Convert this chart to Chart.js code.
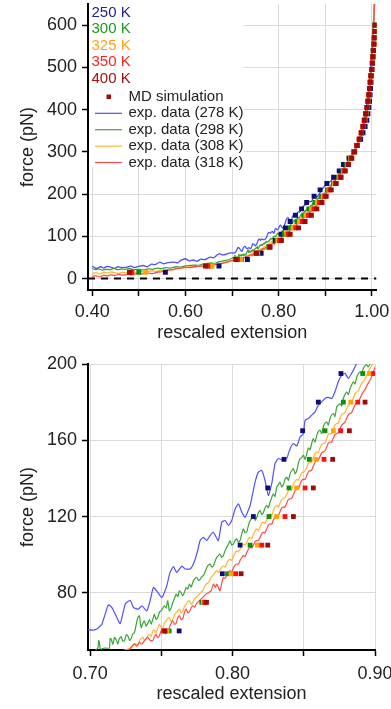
<!DOCTYPE html>
<html><head><meta charset="utf-8">
<script src="https://cdn.jsdelivr.net/npm/chart.js@4/dist/chart.umd.min.js"></script>
<style>
html,body{margin:0;padding:0;background:#fff;width:391px;height:709px;overflow:hidden}
canvas{position:absolute;left:0;display:block}
</style></head><body>
<canvas id="topChart" width="391" height="350" style="top:0"></canvas>
<canvas id="botChart" width="391" height="359" style="top:350px"></canvas>
<script>
// ---------- DATA ----------
const mdForce = [15,30,45,60,75,90,105,120,135,150,165,180,195,210,225,240,255,270,285,300,315,330,345,360,375,390,405,420,435,450,465,480,495,510,525,540,555,570,585,600];
const md250K = [0.557,0.672,0.733,0.7625,0.7800,0.7928,0.8053,0.8146,0.8247,0.8361,0.8492,0.8602,0.8761,0.889,0.9035,0.918,0.930,0.939,0.951,0.9607,0.969,0.976,0.981,0.9855,0.9893,0.9915,0.9935,0.995,0.9962,0.9972,0.9982,0.999,1.0,1.001,1.002,1.003,1.004,1.005,1.006,1.0065];
const md300K = [0.500,0.655,0.720,0.7555,0.7784,0.7965,0.8123,0.8256,0.8396,0.8539,0.8649,0.8778,0.8914,0.9045,0.918,0.929,0.938,0.946,0.954,0.9615,0.968,0.9735,0.978,0.982,0.9855,0.988,0.990,0.992,0.9935,0.995,0.9965,0.998,0.9995,1.001,1.002,1.003,1.0045,1.0055,1.0065,1.007];
const md325K = [0.515,0.657,0.718,0.7540,0.7795,0.7989,0.8174,0.8310,0.8450,0.8586,0.8708,0.8830,0.8960,0.908,0.920,0.931,0.940,0.948,0.955,0.962,0.968,0.973,0.9775,0.9815,0.985,0.9875,0.9898,0.9918,0.9935,0.995,0.9966,0.998,0.9995,1.001,1.002,1.0035,1.0048,1.0058,1.0068,1.0073];
const md350K = [0.485,0.648,0.712,0.7515,0.7805,0.8022,0.8205,0.8368,0.8509,0.8642,0.8759,0.8879,0.8990,0.910,0.922,0.9325,0.9415,0.949,0.956,0.9625,0.968,0.973,0.9772,0.981,0.984,0.987,0.9895,0.9916,0.9936,0.995,0.9966,0.998,0.9998,1.0013,1.0023,1.0036,1.005,1.0058,1.0068,1.0074];
const md400K = [0.480,0.643,0.708,0.7525,0.7817,0.8060,0.8247,0.8427,0.8567,0.8703,0.8820,0.8930,0.9020,0.9129,0.9236,0.934,0.943,0.950,0.957,0.963,0.968,0.973,0.9773,0.981,0.9837,0.9866,0.9895,0.9916,0.9938,0.995,0.9966,0.998,1.0,1.0015,1.0023,1.0037,1.0052,1.0058,1.0068,1.0075];

// experimental traces: [rescaled extension, force (pN)]
const exp278K = [[0.400,30],[0.405,26],[0.410,24],[0.418,28],[0.425,25],[0.432,29],[0.440,27],[0.448,24],[0.455,28],[0.463,26],[0.475,27],[0.483,30],[0.490,26],[0.500,29],[0.510,31],[0.518,28],[0.527,34],[0.535,33],[0.545,39],[0.553,35],[0.562,38],[0.575,39],[0.583,37],[0.590,43],[0.600,47],[0.608,42],[0.617,44],[0.625,41],[0.633,46],[0.642,45],[0.653,51],[0.660,49],[0.667,55],[0.673,59],[0.680,56],[0.688,58],[0.695,61],
[0.7012,60.4],[0.7047,61],[0.7082,63.5],[0.7128,73.7],[0.7152,72.3],[0.7175,69],[0.7211,63.8],[0.7246,74],[0.7281,76.1],[0.7304,72.3],[0.7339,71.4],[0.7363,73.2],[0.7398,70.5],[0.7421,75.8],[0.7444,82.8],[0.7468,81],[0.7503,77.5],[0.7538,83.7],[0.7561,90.7],[0.7585,93.7],[0.7608,90.7],[0.7644,94],[0.7667,92.5],[0.7702,92.5],[0.7725,95.1],[0.7749,100.4],[0.7772,107.4],[0.7795,109.1],[0.7819,107.4],[0.7842,110],[0.7865,111.7],[0.7900,107.4],[0.7924,117],[0.7947,117.9],[0.7971,115.3],[0.7994,117.9],[0.8018,124],[0.8041,126.7],[0.8065,122.3],[0.8088,119.6],[0.8123,125.8],[0.8158,138],[0.8181,143.3],[0.8205,144.2],[0.8228,138.9],[0.8251,131],[0.8275,137.2],[0.8298,147.7],[0.8321,150.4],[0.8356,149.5],[0.8380,150.4],[0.8404,155.6],[0.8427,158.3],[0.8451,157],[0.8474,161.7],[0.8497,163.5],[0.8509,170.5],[0.8532,171.4],[0.8556,173.2],[0.8579,174.9],[0.8602,178.4],[0.8626,180.2],[0.8649,181.9],[0.8672,182.5],[0.8696,181.9],[0.8719,185.4],[0.8742,190.7],[0.8766,194.2],[0.8789,195.1],[0.8813,192.4],[0.8836,195.1],[0.8860,198.6],[0.8881,202],
[0.895,214],[0.905,225],[0.915,234],[0.926,244],[0.937,258],[0.948,273],[0.958,294],[0.969,318],[0.977,345],[0.983,375],[0.988,405],[0.992,435],[0.995,465],[0.998,505],[1.0005,545],[1.002,580],[1.004,615],[1.0065,660]];

const exp298K = [[0.400,24],[0.407,21],[0.414,23],[0.422,20],[0.430,22],[0.438,21],[0.446,24],[0.455,21],[0.463,23],[0.472,22],[0.480,24],[0.490,21],[0.500,22],[0.510,20],[0.520,23],[0.530,22],[0.540,25],[0.548,23],[0.558,26],[0.568,25],[0.580,28],[0.590,27],[0.600,30],[0.610,31],[0.618,32],[0.627,31],[0.636,34],[0.645,35],[0.653,37],[0.662,36],[0.673,40],[0.682,42],[0.690,44],[0.698,47],
[0.7054,51],[0.7060,55],[0.7065,54],[0.7072,50.5],[0.7100,51],[0.7135,51],[0.7140,56],[0.7147,55.8],[0.7160,53],[0.7171,56.7],[0.7185,55],[0.7194,53.2],[0.7206,56],[0.7218,57],[0.7230,54.5],[0.7242,55],[0.7254,58],[0.7265,57.4],[0.7277,55],[0.7288,56],[0.7300,58.5],[0.7311,59.1],[0.7325,64],[0.7335,67],[0.7346,68],[0.7358,61.7],[0.7370,64],[0.7381,65.3],[0.7393,62.5],[0.7405,64],[0.7417,66],[0.7428,63.5],[0.7440,66],[0.7451,68.8],[0.7463,66],[0.7475,67],[0.7487,70],[0.7498,70.5],[0.7510,72],[0.7521,73.2],[0.7533,72],[0.7545,75.8],[0.7556,70.5],[0.7568,72],[0.7580,74.9],[0.7592,77],[0.7604,79.3],[0.7616,78],[0.7627,81],[0.7639,80],[0.7651,78.4],[0.7663,80.5],[0.7674,82.8],[0.7686,82],[0.7697,84.6],[0.7709,83],[0.7725,86.3],[0.7737,87.5],[0.7749,88],[0.7761,86.5],[0.7772,87],[0.7784,88.5],[0.7795,89],[0.7807,91],[0.7819,93.3],[0.7830,94.5],[0.7842,95.1],[0.7854,93.5],[0.7865,94],[0.7877,96.5],[0.7889,98.6],[0.7900,99.5],[0.7912,100.4],[0.7924,98.5],[0.7935,99.5],[0.7947,102],[0.7959,103.9],[0.7971,105.5],[0.7982,107.4],[0.7994,105],[0.8006,105.5],[0.8018,107.5],[0.8029,108.3],[0.8041,106.5],[0.8053,107.5],[0.8065,111],[0.8076,113.5],[0.8088,111.5],[0.8100,112],[0.8112,115.5],[0.8123,117.9],[0.8135,119],[0.8146,120.5],[0.8158,118],[0.8170,119.5],[0.8181,122],[0.8193,123.2],[0.8205,121],[0.8216,122],[0.8228,124.5],[0.8240,125.8],[0.8251,124.5],[0.8263,127.5],[0.8275,130],[0.8286,131.9],[0.8298,130.5],[0.8310,135.4],[0.8321,136.5],[0.8333,138],[0.8345,135.5],[0.8356,136.5],[0.8368,139.5],[0.8380,140.7],[0.8392,139],[0.8404,142.5],[0.8415,144],[0.8427,145.1],[0.8439,142.5],[0.8451,144],[0.8462,148],[0.8474,150.4],[0.8486,151],[0.8497,152.2],[0.8509,150],[0.8521,153],[0.8532,156],[0.8544,155],[0.8556,158.5],[0.8567,160.9],[0.8579,159],[0.8591,162.6],[0.8602,164.5],[0.8614,165.3],[0.8626,163.5],[0.8637,167],[0.8649,169],[0.8661,169.6],[0.8672,168],[0.8684,171.4],[0.8696,173.5],[0.8707,174],[0.8719,172.5],[0.8731,177.5],[0.8742,178.5],[0.8754,179.3],[0.8766,178],[0.8778,181.9],[0.8789,184],[0.8801,185.4],[0.8813,184],[0.8825,187.2],[0.8836,189],[0.8848,190.7],[0.8860,189.5],[0.8872,193.3],[0.8884,195],[0.8895,195.9],[0.8907,195],[0.8918,197.7],[0.8930,199],[0.8942,199.5],[0.8953,198.5],[0.8965,200],
[0.905,212],[0.915,226],[0.925,240],[0.935,256],[0.945,272],[0.955,290],[0.963,305],[0.970,320],[0.977,340],[0.983,362],[0.988,388],[0.992,415],[0.995,445],[0.998,480],[1.0005,520],[1.002,560],[1.0035,600],[1.005,640],[1.006,660]];

const exp308K = [[0.400,12],[0.408,14],[0.416,11],[0.425,15],[0.433,13],[0.440,16],[0.448,14],[0.457,12],[0.465,15],[0.475,13],[0.485,16],[0.495,14],[0.505,17],[0.512,15],[0.520,17],[0.530,18],[0.538,17],[0.546,20],[0.555,19],[0.565,22],[0.575,21],[0.582,24],[0.592,25],[0.600,26],[0.610,28],[0.618,27],[0.628,30],[0.638,29],[0.645,31],[0.653,32],[0.662,34],[0.673,35],[0.683,38],[0.693,41],[0.703,44],[0.712,47],[0.720,49],
[0.7288,51],[0.7305,52.5],[0.7323,53.2],[0.7335,52.5],[0.7346,54.9],[0.7358,56],[0.7370,56.7],[0.7381,55],[0.7393,55.5],[0.7405,57.5],[0.7416,58.2],[0.7428,57],[0.7440,60],[0.7451,60.5],[0.7463,59],[0.7475,61.5],[0.7486,63.5],[0.7498,62],[0.7510,61.5],[0.7521,64],[0.7533,65.3],[0.7545,66.5],[0.7556,67],[0.7568,65],[0.7580,66],[0.7592,68.5],[0.7604,69.6],[0.7616,70.5],[0.7627,71.4],[0.7639,69.5],[0.7651,70.5],[0.7663,73],[0.7674,74],[0.7686,75.5],[0.7697,75.8],[0.7709,74],[0.7721,75],[0.7732,77],[0.7744,77.5],[0.7756,78.5],[0.7767,79.3],[0.7779,80.5],[0.7791,81],[0.7802,83],[0.7814,84.6],[0.7826,85],[0.7837,86.3],[0.7849,88],[0.7861,89],[0.7875,90.5],[0.7889,91.6],[0.7900,90.5],[0.7912,92],[0.7924,93.5],[0.7935,94.2],[0.7947,93.5],[0.7959,95.5],[0.7971,97],[0.7982,97.7],[0.7994,97],[0.8006,99],[0.8018,101],[0.8029,102],[0.8041,101.5],[0.8053,103],[0.8065,105],[0.8076,105.6],[0.8088,105],[0.8100,106.5],[0.8112,108.5],[0.8123,109.1],[0.8135,108.5],[0.8146,110.5],[0.8158,112.5],[0.8170,113.5],[0.8181,112.5],[0.8193,114.5],[0.8205,116.5],[0.8216,117],[0.8228,116.5],[0.8240,118.5],[0.8251,120.5],[0.8263,121.4],[0.8275,120.5],[0.8286,123],[0.8298,125],[0.8310,125.8],[0.8321,125],[0.8333,127],[0.8345,129],[0.8356,129.3],[0.8368,130],[0.8380,131.5],[0.8392,133.5],[0.8404,134.5],[0.8415,134],[0.8427,137],[0.8439,138.5],[0.8451,139.5],[0.8462,139],[0.8474,141],[0.8486,143],[0.8497,143.3],[0.8509,144],[0.8521,146],[0.8532,148],[0.8544,148.6],[0.8556,148.5],[0.8567,151],[0.8579,153],[0.8591,153.9],[0.8602,153.5],[0.8614,156],[0.8626,158],[0.8637,158.3],[0.8649,158.5],[0.8661,161],[0.8672,163],[0.8684,163.5],[0.8696,163.5],[0.8707,166],[0.8719,168],[0.8731,168.8],[0.8742,169],[0.8754,171.5],[0.8766,173.5],[0.8778,174],[0.8789,174.5],[0.8801,176.5],[0.8813,178.5],[0.8825,179.3],[0.8836,180],[0.8848,182],[0.8860,184.5],[0.8872,185.4],[0.8884,186],[0.8895,188],[0.8907,190],[0.8918,190.7],[0.8930,192],[0.8942,194.2],[0.8953,196],[0.8965,197.7],[0.8977,199],[0.8988,201],
[0.905,211],[0.915,225],[0.925,239],[0.935,254],[0.945,270],[0.955,288],[0.963,303],[0.970,319],[0.977,338],[0.983,360],[0.988,386],[0.992,413],[0.995,442],[0.998,478],[1.0005,518],[1.002,558],[1.0035,598],[1.005,638],[1.006,660]];

const exp318K = [[0.400,5],[0.408,7],[0.416,4],[0.425,8],[0.433,6],[0.440,9],[0.448,7],[0.457,10],[0.465,8],[0.475,10],[0.485,9],[0.495,12],[0.505,11],[0.512,12],[0.520,13],[0.530,12],[0.538,15],[0.546,16],[0.555,18],[0.565,20],[0.575,22],[0.582,24],[0.592,25],[0.600,27],[0.610,26],[0.618,28],[0.628,29],[0.638,30],[0.645,31],[0.653,32],[0.662,33],[0.673,34],[0.683,37],[0.693,40],[0.703,43],[0.712,45],[0.720,48],
[0.7276,50.4],[0.7293,52],[0.7311,53.2],[0.7328,52],[0.7346,54],[0.7363,53],[0.7381,54.9],[0.7393,56],[0.7405,56.7],[0.7422,55],[0.7440,54.9],[0.7451,57],[0.7463,58.2],[0.7475,56.5],[0.7486,57.5],[0.7498,60],[0.7510,60.9],[0.7528,58.5],[0.7545,59.5],[0.7562,63],[0.7580,65.3],[0.7592,63.5],[0.7604,64],[0.7616,67],[0.7627,68],[0.7639,66],[0.7651,66.5],[0.7663,70],[0.7674,71.4],[0.7686,69.5],[0.7697,70],[0.7709,72],[0.7721,73.2],[0.7733,72.5],[0.7744,74],[0.7761,75.5],[0.7779,76.7],[0.7796,78],[0.7814,79.3],[0.7831,80],[0.7849,81],[0.7866,84.6],[0.7879,82.8],[0.7889,84.6],[0.7900,83],[0.7912,81],[0.7924,85],[0.7935,88],[0.7947,87.5],[0.7959,89],[0.7971,90.5],[0.7982,91.6],[0.7994,91],[0.8006,93],[0.8018,94.5],[0.8029,95.1],[0.8041,95],[0.8053,97],[0.8065,98.5],[0.8076,99.5],[0.8088,99],[0.8100,101],[0.8112,103],[0.8123,103.9],[0.8135,103.5],[0.8146,105],[0.8158,107],[0.8170,107.4],[0.8181,107.5],[0.8193,109],[0.8205,111],[0.8216,111.7],[0.8228,111.5],[0.8240,113.5],[0.8251,115.5],[0.8263,116.1],[0.8275,116],[0.8286,118],[0.8298,120],[0.8310,120.5],[0.8321,120.5],[0.8333,122.5],[0.8345,124.5],[0.8356,124.9],[0.8368,125],[0.8380,127],[0.8392,129],[0.8404,129.3],[0.8415,129.5],[0.8427,131.5],[0.8439,133.5],[0.8451,134.5],[0.8462,134.5],[0.8474,137],[0.8486,139],[0.8497,139.5],[0.8509,139.5],[0.8521,141.5],[0.8532,143.5],[0.8544,144],[0.8556,144.5],[0.8567,146.5],[0.8579,148.5],[0.8591,149.5],[0.8602,149.5],[0.8614,151.5],[0.8626,153.5],[0.8637,153.9],[0.8649,154.5],[0.8661,156.5],[0.8672,158.5],[0.8684,159.1],[0.8696,159],[0.8707,161],[0.8719,163],[0.8731,163.5],[0.8742,164],[0.8754,166],[0.8766,168],[0.8778,168.8],[0.8789,169.5],[0.8801,171.5],[0.8813,173.5],[0.8825,174],[0.8836,174.5],[0.8848,176.5],[0.8860,178.5],[0.8872,179.3],[0.8884,180],[0.8895,182],[0.8907,184],[0.8918,185.4],[0.8930,186.5],[0.8942,188.5],[0.8953,190],[0.8965,191.6],[0.8977,193.5],[0.8988,196],[0.9005,199],
[0.905,207],[0.915,222],[0.925,237],[0.935,252],[0.945,268],[0.955,286],[0.963,301],[0.970,317],[0.977,336],[0.983,358],[0.988,384],[0.992,411],[0.995,440],[0.998,476],[1.0005,516],[1.002,556],[1.0035,596],[1.005,636],[1.006,660]];

const zeroForce = 0;
const tempLabels = ['250 K','300 K','325 K','350 K','400 K'];
const mdLabel = 'MD simulation';
const expLabels = ['exp. data (278 K)','exp. data (298 K)','exp. data (308 K)','exp. data (318 K)'];
const topXTicks = [0.40,0.50,0.60,0.70,0.80,0.90,1.00];
const topXLabeled = [0.40,0.60,0.80,1.00];
const topYTicks = [0,100,200,300,400,500,600];
const botXTicks = [0.70,0.75,0.80,0.85,0.90];
const botXLabeled = [0.70,0.80,0.90];
const botYTicks = [80,120,160,200];
const xTitle = 'rescaled extension';
const yTitle = 'force (pN)';

// ---------- STYLE ----------
const FONT = '"Liberation Sans", Arial, Helvetica, sans-serif';
const TXT = '#222';
const mdColors = ['#0d0d73','#0a900a','#ffa500','#ff1010','#9e0b0b'];
const tempTextColors = ['#23238c','#1d9a1d','#ffa31a','#ff2020','#a01212'];
const expColors = ['#5050ff','#3aa63a','#ffb52e','#ff4a4a'];

Chart.defaults.font.family = FONT;

function buildDatasets(ptRadius, lineW, withZero){
  const mdSets = [md250K, md300K, md325K, md350K, md400K];
  const expSets = [exp278K, exp298K, exp308K, exp318K];
  const ds = [];
  for (let i = 4; i >= 0; i--) {
    ds.push({ label: tempLabels[i], data: mdForce.map((f,k)=>({x: mdSets[i][k], y: f})),
      showLine:false, pointStyle:'rect', pointRadius: ptRadius, pointBorderWidth:0,
      backgroundColor: mdColors[i], borderColor: mdColors[i] });
  }
  for (let i = 3; i >= 0; i--) {
    ds.push({ label: expLabels[i], data: expSets[i].map(p=>({x:p[0], y:p[1]})),
      showLine:true, pointRadius:0, borderWidth:lineW, borderColor: expColors[i], tension:0.15 });
  }
  if (withZero) {
    ds.push({ label:'zero', data:[{x:0.391,y:zeroForce},{x:1.01,y:zeroForce}], showLine:true,
      pointRadius:0, borderColor:'#000', borderWidth:2, borderDash:[7,6] });
  }
  return ds;
}
const lbl = (labeled) => (v) => labeled.some(t => Math.abs(t - v) < 1e-6) ? v.toFixed(2) : '';
const noPad = s => { s.paddingLeft = 0; s.paddingRight = 0; s.paddingTop = 0; s.paddingBottom = 0; };

function axisX(min, max, ticks, labeled, h, tickPad, titlePad){
  return { type:'linear', min, max,
    afterBuildTicks: s => { s.ticks = ticks.map(v=>({value:v})); },
    afterFit: s => { s.height = h; noPad(s); },
    ticks: { callback: lbl(labeled), font:{size:18}, color:TXT, padding: tickPad, maxRotation:0, autoSkip:false },
    grid: { color:'#dadada', lineWidth:1, tickColor:'#000', tickLength:6, tickWidth:1.5 },
    border: { color:'#000', width:2 },
    title: { display:true, text:xTitle, font:{size:18}, color:TXT, padding:{top:0, bottom:titlePad} } };
}
function axisY(min, max, ticks){
  return { type:'linear', min, max,
    afterBuildTicks: s => { s.ticks = ticks.map(v=>({value:v})); },
    afterFit: s => { s.width = 88; noPad(s); },
    ticks: { font:{size:18}, color:TXT, padding:5 },
    grid: { color:'#dadada', lineWidth:1, tickColor:'#000', tickLength:6, tickWidth:1.5 },
    border: { color:'#000', width:2 },
    title: { display:true, text:yTitle, font:{size:18}, color:TXT, padding:{top:17, bottom:0} } };
}

const legendBox = {
  id:'legendBox',
  beforeDatasetsDraw(chart){
    const c = chart.ctx; c.save(); c.fillStyle='#fff'; c.fillRect(89.5,0,154,167); c.restore();
  },
  afterDatasetsDraw(chart){
    const c = chart.ctx; c.save();
    c.font = '15px ' + FONT; c.textBaseline='middle'; c.textAlign='left';
    tempLabels.forEach((t,i)=>{ c.fillStyle = tempTextColors[i]; c.fillText(t, 91.5, 12.5 + i*16.6); });
    c.fillStyle = mdColors[4]; c.fillRect(106.5, 94.5, 4.5, 4.5);
    c.fillStyle = TXT; c.fillText(mdLabel, 128.5, 96.7);
    expLabels.forEach((t,i)=>{
      const y = 113.3 + i*16.4;
      c.strokeStyle = expColors[i]; c.lineWidth = 1.2;
      c.beginPath(); c.moveTo(95,y); c.lineTo(122,y); c.stroke();
      c.fillStyle = TXT; c.fillText(t, 128.5, y);
    });
    c.restore();
  }
};

const common = { responsive:false, animation:false, events:[], devicePixelRatio:1,
  plugins:{ legend:{display:false}, tooltip:{enabled:false} } };

new Chart(document.getElementById('topChart'), {
  type:'scatter',
  data:{ datasets: buildDatasets(3.5, 1.3, true) },
  options: Object.assign({}, common, {
    layout:{ padding:{left:0, right:14.5, top:3, bottom:0} },
    scales:{ x: axisX(0.391, 1.01, topXTicks, topXLabeled, 60, 5, 6), y: axisY(-27, 650, topYTicks) }
  }),
  plugins:[legendBox]
});

new Chart(document.getElementById('botChart'), {
  type:'scatter',
  data:{ datasets: buildDatasets(3.4, 1.2, false) },
  options: Object.assign({}, common, {
    layout:{ padding:{left:0, right:16, top:14, bottom:0} },
    scales:{ x: axisX(0.6985, 0.90, botXTicks, botXLabeled, 59, 7, 4.5), y: axisY(50, 200, botYTicks) }
  })
});
</script>
</body></html>
